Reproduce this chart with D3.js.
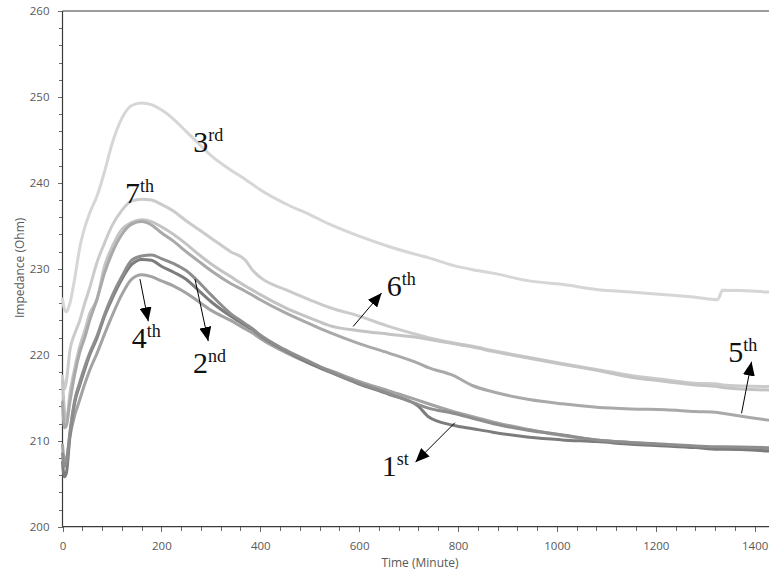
<!DOCTYPE html>
<html>
<head>
<meta charset="utf-8">
<script src="https://cdn.jsdelivr.net/npm/d3@7"></script>
<style>
  html, body { margin: 0; padding: 0; background: #fff; }
  svg { display: block; }
</style>
</head>
<body>
<svg id="chart" width="769" height="571"></svg>
<script>
// ---------- DATA ----------
const times = [0, 4, 8, 15, 25, 35, 45, 55, 70, 85, 100, 120, 140, 160, 180, 200, 225, 250, 275, 300, 340, 370, 385, 400, 450, 500, 540, 600, 660, 720, 740, 790, 830, 870, 944, 1010, 1080, 1150, 1220, 1280, 1325, 1335, 1428];

const run1st = [207.5, 205.8, 206.3, 210.5, 214.5, 216.5, 218.3, 220.0, 222.0, 224.5, 226.5, 228.8, 230.5, 231.1, 231.0, 230.3, 229.6, 228.8, 227.5, 226.2, 224.5, 223.4, 222.9, 222.2, 220.5, 219.0, 218.0, 216.6, 215.4, 214.0, 212.8, 211.8, 211.4, 211.0, 210.4, 210.1, 209.9, 209.6, 209.4, 209.2, 209.0, 209.0, 208.8];
const run2nd = [208.5, 207.0, 207.5, 211.0, 214.8, 216.8, 218.6, 220.2, 222.2, 224.7, 226.8, 229.1, 231.0, 231.5, 231.6, 231.2, 230.6, 229.8, 228.5, 227.0, 224.8, 223.6, 223.0, 222.3, 220.6, 219.2, 218.1, 216.7, 215.5, 214.2, 213.8, 213.2, 212.6, 212.0, 211.2, 210.7, 210.1, 209.8, 209.6, 209.4, 209.3, 209.3, 209.2];
const run3rd = [226.5, 225.3, 225.0, 226.0, 229.0, 232.5, 234.8, 236.5, 238.5, 241.3, 244.5, 247.5, 249.0, 249.3, 249.1, 248.5, 247.4, 246.0, 244.6, 243.2, 241.5, 240.4, 239.8, 239.2, 237.6, 236.3, 235.2, 233.8, 232.6, 231.6, 231.3, 230.4, 229.9, 229.5, 228.6, 228.2, 227.6, 227.3, 227.0, 226.7, 226.4, 227.5, 227.3];
const run4th = [209.5, 207.8, 208.0, 210.5, 213.0, 214.8, 216.6, 218.2, 220.2, 222.4, 224.5, 227.0, 228.8, 229.3, 229.1, 228.6, 228.0, 227.2, 226.2, 225.2, 224.0, 223.0, 222.5, 221.9, 220.3, 219.0, 218.2, 216.9, 215.8, 214.7, 214.3, 213.4, 212.8, 212.2, 211.3, 210.6, 210.1, 209.8, 209.5, 209.3, 209.2, 209.2, 209.0];
const run5th = [214.5, 211.5, 211.8, 214.5, 217.8, 220.3, 222.0, 224.0, 226.5, 229.5, 231.8, 234.0, 235.2, 235.5, 235.1, 234.2, 233.2, 232.0, 230.9, 229.8, 228.3, 227.4, 226.9, 226.4, 224.9, 223.6, 222.6, 221.3, 220.2, 219.0, 218.5, 217.6, 216.4, 215.7, 214.8, 214.3, 213.9, 213.7, 213.6, 213.4, 213.3, 213.2, 212.4];
const run6th = [217.0, 213.5, 212.3, 215.5, 218.5, 221.0, 222.8, 224.8, 226.5, 230.3, 232.5, 234.6, 235.4, 235.7, 235.5, 234.9, 234.0, 232.9, 231.7, 230.6, 229.1, 228.0, 227.5, 227.0, 225.5, 224.3, 223.4, 222.8, 222.4, 222.0, 221.8, 221.3, 220.9, 220.4, 219.6, 218.9, 218.2, 217.4, 216.9, 216.5, 216.3, 216.2, 215.9];
const run7th = [217.5, 216.0, 217.0, 220.5, 222.5, 224.0, 226.0, 227.8, 230.8, 233.0, 235.0, 236.8, 237.9, 238.1, 238.0, 237.5, 236.7, 235.6, 234.6, 233.6, 232.0, 231.0, 229.8, 229.0, 227.6, 226.4, 225.5, 224.5, 223.3, 222.3, 222.0, 221.4, 221.0, 220.5, 219.7, 219.0, 218.3, 217.6, 217.1, 216.7, 216.6, 216.5, 216.3];

const seriesNames  = ["3rd", "7th", "6th", "5th", "4th", "2nd", "1st"];
const seriesValues = [run3rd, run7th, run6th, run5th, run4th, run2nd, run1st];
const seriesGreys  = ["#d6d6d6", "#cbcbcb", "#c4c4c4", "#a9a9a9", "#a3a3a3", "#8e8e8e", "#7c7c7c"];

const xTicks = [0, 200, 400, 600, 800, 1000, 1200, 1400];
const yTicks = [200, 210, 220, 230, 240, 250, 260];
const xTitle = "Time (Minute)";
const yTitle = "Impedance  (Ohm)";

// annotation labels: [main, superscript, t, value at baseline]
const labelMain = ["3", "7", "4", "2", "6", "5", "1"];
const labelSup  = ["rd", "th", "th", "nd", "th", "th", "st"];
const labelT    = [264.5, 126.4, 140, 264, 655.6, 1346.4, 645.5];
const labelV    = [243.6, 237.7, 220.8, 217.9, 226.8, 219.2, 205.9];
// arrows: tail (t,v) -> head (t,v)
const arrowTailT = [156.7, 268, 588, 1373.5, 793.7];
const arrowTailV = [228.8, 228.8, 223.3, 213.2, 212.1];
const arrowHeadT = [173.5, 294.8, 645.5, 1393.7, 713.9];
const arrowHeadV = [223.9, 221.6, 227.2, 219.2, 207.5];

// ---------- CHART ----------
const leftX = 62.5, topY = 11, bottomY = 526.7, rightX = 769;
const svg = d3.select("#chart");

const x = d3.scaleLinear().domain([0, 1429]).range([leftX, rightX]);
const y = d3.scaleLinear().domain([200, 260]).range([bottomY, topY]);

const axisColor = "#3a3a3a";
const labelColor = "#595959";
const tickFont = "'Open Sans', 'Liberation Sans', sans-serif";

// minor ticks
const xMinor = d3.range(0, 1429, 40);
const yMinor = d3.range(200, 260.1, 2);

const gxMinor = svg.append("g").attr("transform", `translate(0,${bottomY})`)
  .call(d3.axisBottom(x).tickValues(xMinor).tickSize(4).tickSizeOuter(0).tickFormat(""));
const gyMinor = svg.append("g").attr("transform", `translate(${leftX},0)`)
  .call(d3.axisLeft(y).tickValues(yMinor).tickSize(4).tickSizeOuter(0).tickFormat(""));

const gx = svg.append("g").attr("transform", `translate(0,${bottomY})`)
  .call(d3.axisBottom(x).tickValues(xTicks).tickSize(5).tickSizeOuter(0).tickPadding(10).tickFormat(d3.format("d")));
const gy = svg.append("g").attr("transform", `translate(${leftX},0)`)
  .call(d3.axisLeft(y).tickValues(yTicks).tickSize(5).tickSizeOuter(0).tickPadding(8).tickFormat(d3.format("d")));

[gxMinor, gyMinor, gx, gy].forEach(g => {
  g.select(".domain").remove();
  g.selectAll("line").attr("stroke", "#6a6a6a").attr("shape-rendering", "crispEdges");
});
[gx, gy].forEach(g => {
  g.selectAll("text").attr("fill", labelColor)
    .style("font-family", tickFont).style("font-size", "11.5px");
});

// frame: left axis, bottom axis, top border
svg.append("line").attr("x1", leftX).attr("x2", leftX).attr("y1", topY).attr("y2", bottomY)
  .attr("stroke", axisColor).attr("stroke-width", 1.2);
svg.append("line").attr("x1", leftX).attr("x2", rightX).attr("y1", bottomY).attr("y2", bottomY)
  .attr("stroke", axisColor).attr("stroke-width", 1.2);
svg.append("line").attr("x1", leftX).attr("x2", rightX).attr("y1", topY).attr("y2", topY)
  .attr("stroke", axisColor).attr("stroke-width", 1.2);

// axis titles
svg.append("text").attr("x", 420).attr("y", 567)
  .attr("text-anchor", "middle").attr("fill", labelColor)
  .style("font-family", tickFont).style("font-size", "12px").text(xTitle);
svg.append("text").attr("transform", `translate(24,${(topY + bottomY) / 2 - 1}) rotate(-90)`)
  .attr("text-anchor", "middle").attr("fill", labelColor)
  .style("font-family", tickFont).style("font-size", "12px").text(yTitle);

// lines
const line = d3.line().x((d, i) => x(times[i])).y(d => y(d)).curve(d3.curveMonotoneX);
const drawOrder = [0, 1, 2, 3, 4, 6, 5];
svg.append("g").selectAll("path").data(drawOrder).join("path")
  .attr("d", i => line(seriesValues[i]))
  .attr("fill", "none")
  .attr("stroke", i => seriesGreys[i])
  .attr("stroke-width", 3)
  .attr("stroke-linejoin", "round")
  .attr("stroke-linecap", "round");

// arrows
const defs = svg.append("defs");
defs.append("marker").attr("id", "head")
  .attr("viewBox", "0 0 14 12").attr("refX", 14).attr("refY", 6)
  .attr("markerWidth", 14).attr("markerHeight", 12)
  .attr("markerUnits", "userSpaceOnUse").attr("orient", "auto")
  .append("path").attr("d", "M0,0 L14,6 L0,12 Z").attr("fill", "#000");

svg.append("g").selectAll("line").data(arrowTailT).join("line")
  .attr("x1", (d, i) => x(arrowTailT[i])).attr("y1", (d, i) => y(arrowTailV[i]))
  .attr("x2", (d, i) => x(arrowHeadT[i])).attr("y2", (d, i) => y(arrowHeadV[i]))
  .attr("stroke", "#000").attr("stroke-width", 1)
  .attr("marker-end", "url(#head)");

// labels
const lab = svg.append("g").selectAll("text").data(labelMain).join("text")
  .attr("x", (d, i) => x(labelT[i])).attr("y", (d, i) => y(labelV[i]))
  .attr("fill", "#111")
  .style("font-family", "'Liberation Serif', 'DejaVu Serif', serif")
  .style("font-size", "30px");
lab.append("tspan").text(d => d);
lab.append("tspan").attr("dy", -11).style("font-size", "18px").text((d, i) => labelSup[i]);
</script>
</body>
</html>
